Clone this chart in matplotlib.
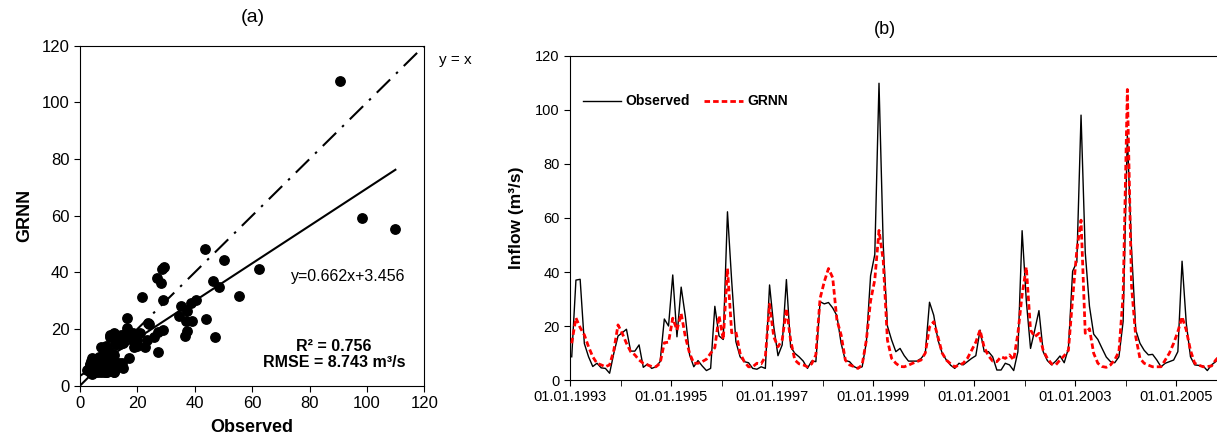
#!/usr/bin/env python3
import numpy as np
import matplotlib
matplotlib.use("Agg")
import matplotlib.pyplot as plt

plt.rcParams["font.family"] = ["Liberation Sans", "DejaVu Sans"]

# monthly inflow, Jan 1993 .. Dec 2005 (m3/s)
observed = [
    8.6, 37.0, 37.3, 13.5, 8.6, 5.0, 6.2, 4.5, 4.3, 2.5, 9.9, 16.3,
    17.5, 18.8, 10.7, 10.7, 13.0, 4.7, 5.9, 4.3, 4.9, 6.8, 22.6, 20.0,
    38.9, 16.0, 34.4, 23.5, 9.3, 4.9, 7.2, 5.2, 3.5, 4.3, 27.3, 16.3,
    15.0, 62.3, 36.7, 14.2, 8.6, 6.8, 6.4, 4.3, 4.0, 4.9, 4.3, 35.2,
    19.8, 9.0, 13.0, 37.2, 12.3, 9.9, 8.6, 7.0, 4.3, 7.0, 6.8, 29.0,
    28.2, 28.7, 26.7, 23.8, 13.6, 7.2, 6.8, 5.0, 4.3, 4.9, 14.0, 38.6,
    46.5, 109.9, 50.2, 20.0, 14.8, 10.5, 11.7, 9.0, 7.0, 7.0, 7.0, 8.0,
    9.9, 28.8, 24.0, 14.8, 10.0, 7.4, 5.5, 4.3, 6.2, 5.6, 6.8, 8.0,
    9.0, 18.5, 10.5, 10.5, 8.6, 3.7, 3.7, 6.2, 5.6, 3.5, 10.5, 55.3,
    29.3, 11.7, 18.5, 25.7, 10.5, 7.2, 5.6, 7.0, 8.9, 6.4, 11.7, 40.3,
    43.7, 98.1, 47.2, 27.3, 17.0, 15.0, 11.7, 8.5, 6.8, 6.4, 8.6, 21.7,
    90.6, 48.3, 18.5, 13.6, 11.0, 9.3, 9.5, 7.4, 4.9, 6.2, 6.8, 7.4,
    10.5, 44.0, 21.0, 8.6, 5.6, 5.4, 5.2, 3.5, 5.6, 6.8, 9.0, 11.0,
]
grnn = [
    13.6, 23.0, 19.4, 16.7, 12.3, 8.6, 6.2, 5.6, 4.9, 5.6, 11.0, 20.4,
    17.3, 13.6, 10.5, 9.3, 7.4, 6.2, 5.6, 5.0, 4.9, 6.2, 13.8, 14.0,
    22.9, 18.5, 24.6, 16.0, 9.9, 6.2, 6.2, 6.8, 7.7, 9.9, 12.0, 23.8,
    15.0, 41.3, 17.5, 17.9, 9.9, 6.8, 4.9, 4.9, 6.2, 6.0, 8.6, 28.1,
    16.0, 12.3, 14.8, 26.5, 14.8, 7.4, 6.0, 5.6, 4.9, 6.0, 9.3, 30.2,
    36.4, 41.3, 37.9, 22.2, 16.7, 7.4, 5.6, 5.0, 4.3, 5.6, 14.8, 29.3,
    37.1, 55.4, 44.4, 14.8, 8.0, 6.2, 5.0, 4.9, 5.5, 6.2, 6.8, 7.4,
    10.0, 19.6, 21.6, 16.0, 10.0, 7.4, 6.0, 4.9, 5.5, 6.2, 8.0, 11.0,
    14.0, 18.5, 12.0, 9.0, 7.0, 6.8, 8.6, 8.0, 9.3, 7.4, 17.3, 31.6,
    41.8, 18.5, 16.0, 17.3, 11.0, 8.0, 6.0, 5.6, 7.4, 9.0, 11.0, 30.2,
    48.1, 59.2, 17.3, 19.0, 9.9, 6.2, 5.0, 4.7, 5.6, 7.5, 10.5, 31.4,
    107.6, 34.7, 16.0, 8.0, 6.2, 5.5, 4.9, 4.9, 4.9, 7.4, 10.0, 13.6,
    17.9, 23.4, 18.5, 11.0, 6.2, 5.5, 4.9, 5.0, 5.2, 7.4, 9.0, 11.0,
]
start_year = 1993
fit_slope = 0.662
fit_intercept = 3.456
r2 = 0.756
rmse = 8.743

obs = np.array(observed)
pred = np.array(grnn)
months = np.arange(len(obs)) + 0.4  # plotted mid-month

fig = plt.figure(figsize=(12.17, 4.34), dpi=100)

# ---- (a) scatter ----
ax1 = fig.add_axes([0.0657, 0.1113, 0.2830, 0.7834])
ax1.plot([0, 120], [0, 120], color="black", lw=1.5,
         linestyle=(0, (9, 4, 1.2, 4)), zorder=1)
xf = np.array([0, obs.max()])
ax1.plot(xf, fit_slope * xf + fit_intercept, color="black", lw=1.5, zorder=2)
ax1.scatter(obs, pred, s=46, color="black", zorder=3)
ax1.set_xlim(0, 120)
ax1.set_ylim(0, 120)
ax1.set_xticks(range(0, 121, 20))
ax1.set_yticks(range(0, 121, 20))
ax1.tick_params(direction="out", length=4, labelsize=12)
ax1.set_xlabel("Observed", fontsize=13, fontweight="bold", labelpad=6)
ax1.set_ylabel("GRNN", fontsize=13, fontweight="bold", labelpad=6)
ax1.text(93.4, 38.7, f"y={fit_slope}x+{fit_intercept}", ha="center",
         va="center", fontsize=11.5)
ax1.text(88.5, 11, f"R² = {r2}\nRMSE = {rmse} m³/s", ha="center",
         va="center", fontsize=11.5, fontweight="bold", linespacing=1.15)
fig.text(455 / 1217, 1 - 60 / 434, "y = x", ha="center", va="center",
         fontsize=11)
fig.text(253 / 1217, 1 - 17 / 434, "(a)", ha="center", va="center",
         fontsize=14)

# ---- (b) time series ----
ax2 = fig.add_axes([0.4684, 0.1244, 1 - 0.4684, 0.7466])
ax2.plot(months, obs, color="black", lw=1.0, label="Observed", zorder=2)
ax2.plot(months, pred, color="red", lw=2.0, dashes=(2, 1.1),
         label="GRNN", zorder=3)
ax2.set_xlim(0, 153.7)
ax2.set_ylim(0, 120)
ax2.set_yticks(range(0, 121, 20))
ax2.set_xticks(range(0, 156, 24))
ax2.set_xticklabels([f"01.01.{start_year + t // 12}" for t in range(0, 156, 24)])
ax2.set_xticks(range(12, 156, 24), minor=True)
ax2.tick_params(which="both", direction="out", length=4, labelsize=10.5)
ax2.spines["right"].set_visible(False)
ax2.set_ylabel("Inflow (m³/s)", fontsize=12.5, fontweight="bold", labelpad=8)
leg = ax2.legend(loc="upper left", bbox_to_anchor=(0.0, 0.92), ncol=2,
                 frameon=False, handlelength=2.8, handletextpad=0.3,
                 columnspacing=1.0, prop={"weight": "bold", "size": 10})
fig.text(885 / 1217, 1 - 30 / 434, "(b)", ha="center", va="center",
         fontsize=13)

fig.savefig("out.png", dpi=100)
plt.close(fig)
print("Wrote out.png")
